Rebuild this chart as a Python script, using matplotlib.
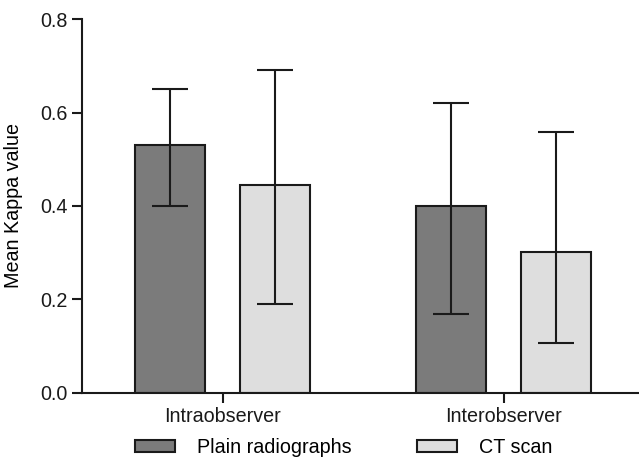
import numpy as np
import matplotlib
matplotlib.use("Agg")
import matplotlib.pyplot as plt

plt.rcParams['font.family'] = ['Liberation Sans', 'DejaVu Sans']

groups      = ["Intraobserver", "Interobserver"]
series      = ["Plain radiographs", "CT scan"]
mean_kappa  = [[0.53, 0.40], [0.445, 0.302]]
err_low     = [[0.40, 0.168], [0.19, 0.108]]
err_high    = [[0.65, 0.62], [0.69, 0.558]]
colors      = ["#7b7b7b", "#dedede"]

fig = plt.figure(figsize=(6.39, 4.59), dpi=100)
ax = fig.add_axes([0.128, 0.1438, 0.872, 0.8148])

x = np.arange(len(groups))
width = 0.249
offsets = [-0.1865, 0.1865]
for k in range(len(series)):
    vals = np.array(mean_kappa[k])
    lo = vals - np.array(err_low[k])
    hi = np.array(err_high[k]) - vals
    ax.bar(x + offsets[k], vals, width, color=colors[k], edgecolor="#1a1a1a",
           linewidth=1.5, label=series[k], zorder=2)
    ax.errorbar(x + offsets[k], vals, yerr=[lo, hi], fmt="none", ecolor="#1a1a1a",
                elinewidth=1.5, capsize=13, capthick=1.5, zorder=3)

ax.set_xlim(-0.5, 1.48)
ax.set_ylim(0, 0.8)
ax.set_yticks([0.0, 0.2, 0.4, 0.6, 0.8])
ax.set_yticklabels(["0.0", "0.2", "0.4", "0.6", "0.8"])
ax.set_xticks(x)
ax.set_xticklabels(groups)
ax.set_ylabel("Mean Kappa value", fontsize=14.2)
ax.yaxis.set_label_coords(-0.106, 0.5)

for s in ["top", "right"]:
    ax.spines[s].set_visible(False)
for s in ["left", "bottom"]:
    ax.spines[s].set_linewidth(1.5)
    ax.spines[s].set_color("#1a1a1a")
ax.tick_params(axis="both", width=1.5, length=7, labelsize=14.2, colors="#1a1a1a", pad=3)

fig.legend(loc="center", bbox_to_anchor=(0.538, 0.026), ncol=2, frameon=False,
           fontsize=14.2, handlelength=2.03, handleheight=0.56, handletextpad=1.1,
           columnspacing=3.35)

fig.savefig("out.png", dpi=100)
